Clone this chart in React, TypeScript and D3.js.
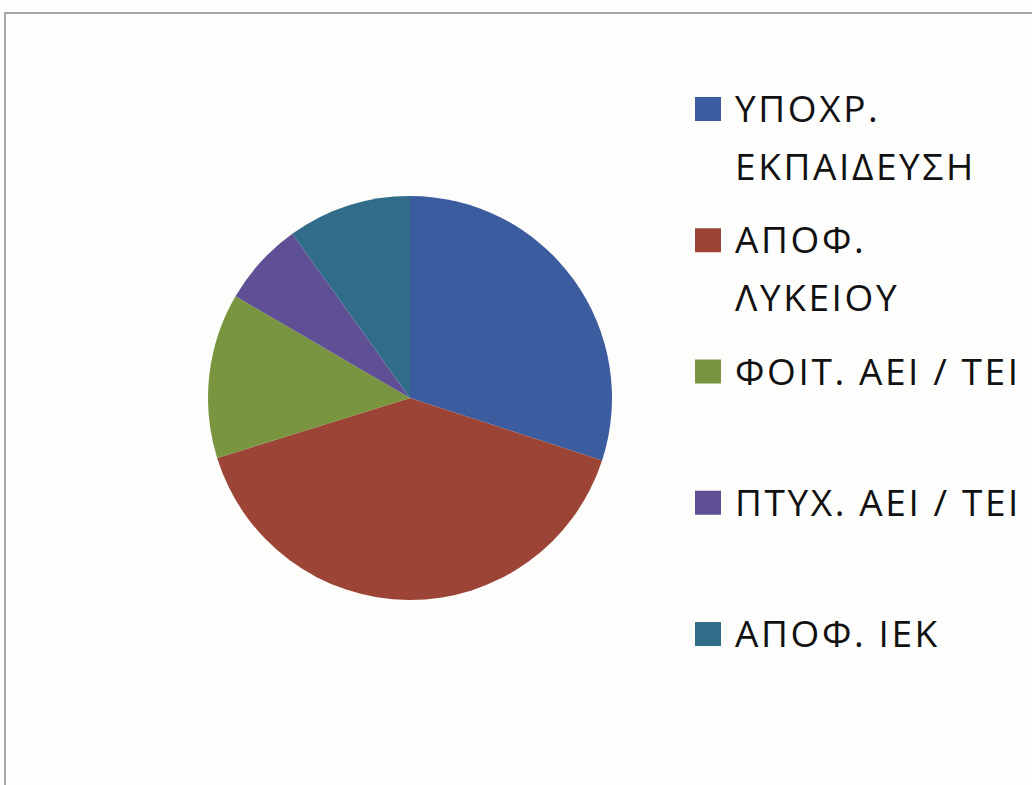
import React, { useEffect, useRef } from 'react';
import * as d3 from 'd3';

const categories = [
  ['ΥΠΟΧΡ.', 'ΕΚΠΑΙΔΕΥΣΗ'],
  ['ΑΠΟΦ.', 'ΛΥΚΕΙΟΥ'],
  ['ΦΟΙΤ. ΑΕΙ / ΤΕΙ'],
  ['ΠΤΥΧ. ΑΕΙ / ΤΕΙ'],
  ['ΑΠΟΦ. ΙΕΚ'],
];
const shares = [30, 40.2, 13.2, 6.7, 9.9];
const colors = ['#3b5d9f', '#9c4536', '#7a953f', '#5f5095', '#316d8a'];

function PieChart() {
  const svgRef = useRef(null);

  useEffect(() => {
    const svg = d3.select(svgRef.current);
    svg.selectAll('*').remove();

    const W = 1032;
    const H = 785;

    svg.append('rect').attr('width', W).attr('height', H).attr('fill', '#fdfdfb');

    // frame (only top and left edges visible in the scan)
    svg
      .append('path')
      .attr('d', `M5,${H} L5,13 L${W},13`)
      .attr('fill', 'none')
      .attr('stroke', '#a3a6aa')
      .attr('stroke-width', 2);

    const cx = 410;
    const cy = 398;
    const r = 202;

    const pie = d3
      .pie<number>()
      .sort(null)
      .value((d) => d);
    const arc = d3.arc<d3.PieArcDatum<number>>().innerRadius(0).outerRadius(r);

    const g = svg.append('g').attr('transform', `translate(${cx},${cy})`);
    g.selectAll('path')
      .data(pie(shares))
      .enter()
      .append('path')
      .attr('d', arc)
      .attr('fill', (d, i) => colors[i]);

    // legend
    const legendX = 695;
    const itemY = d3.scaleLinear().domain([0, 4]).range([109, 634]);
    const lineGap = 58;

    const items = svg
      .selectAll('g.legend')
      .data(categories)
      .enter()
      .append('g')
      .attr('class', 'legend')
      .attr('transform', (d, i) => `translate(${legendX},${itemY(i)})`);

    items
      .append('rect')
      .attr('x', 0)
      .attr('y', -12)
      .attr('width', 26)
      .attr('height', 24)
      .attr('fill', (d, i) => colors[i]);

    items.each(function (lines) {
      const t = d3.select(this);
      lines.forEach((line, j) => {
        t.append('text')
          .attr('x', 40)
          .attr('y', j * lineGap + 13)
          .attr('font-family', '"Open Sans", sans-serif')
          .attr('font-size', 37)
          .attr('letter-spacing', 2.6)
          .attr('fill', '#111')
          .text(line);
      });
    });
  }, []);

  return (
    <svg
      ref={svgRef}
      width={1032}
      height={785}
      style={{ position: 'absolute', left: 0, top: 0 }}
      xmlns="http://www.w3.org/2000/svg"
    />
  );
}

export default function App() {
  return <PieChart />;
}
